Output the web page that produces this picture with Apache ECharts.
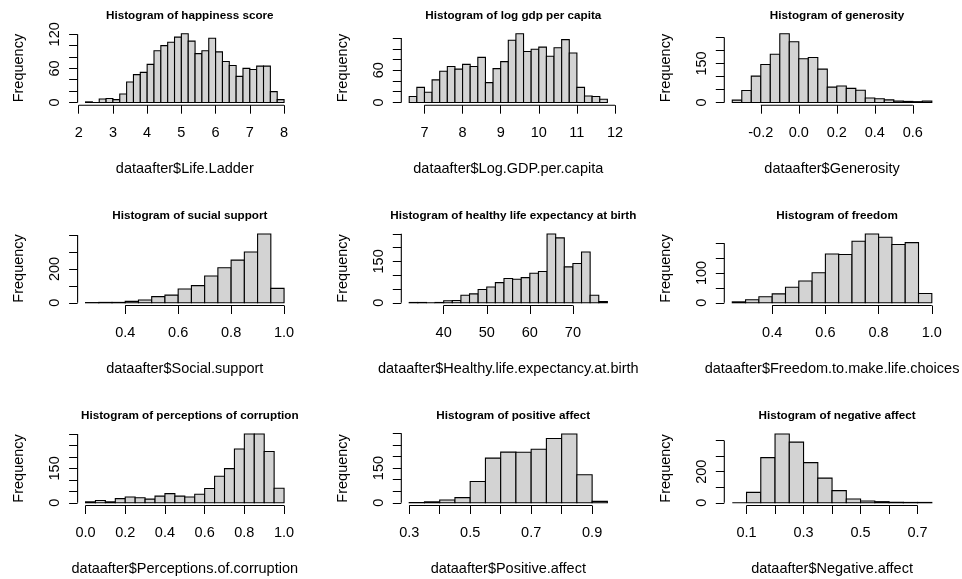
<!DOCTYPE html>
<html>
<head>
<meta charset="utf-8">
<script src="https://cdn.jsdelivr.net/npm/echarts@6/dist/echarts.min.js"></script>
<style>
  html, body { margin: 0; padding: 0; background: #ffffff; }
  #chart { width: 962px; height: 579px; }
</style>
</head>
<body>
<div id="chart"></div>
<script>
// ---- Histogram data: first break, bin width and counts per variable ----
const happinessStart = 2.2, happinessStep = 0.2;
const happinessCounts = [1, 0, 6, 7, 5, 15, 36, 49, 53, 67, 91, 100, 106, 115, 121, 108, 86, 91, 113, 89, 72, 65, 46, 60, 58, 64, 64, 19, 5];
const happinessXTicks = [2, 3, 4, 5, 6, 7, 8];
const happinessXLabels = [2, 3, 4, 5, 6, 7, 8];
const happinessYTicks = [0, 20, 40, 60, 80, 100, 120];
const happinessYLabels = [0, 60, 120];

const gdpStart = 6.6, gdpStep = 0.2;
const gdpCounts = [11, 28, 19, 42, 58, 67, 62, 71, 67, 84, 37, 63, 76, 116, 128, 95, 99, 103, 86, 102, 117, 92, 28, 12, 11, 6];
const gdpXTicks = [7, 8, 9, 10, 11, 12];
const gdpXLabels = [7, 8, 9, 10, 11, 12];
const gdpYTicks = [0, 20, 40, 60, 80, 100, 120];
const gdpYLabels = [0, 60];

const generosityStart = -0.35, generosityStep = 0.05;
const generosityCounts = [9, 46, 101, 146, 185, 264, 233, 168, 173, 128, 59, 63, 54, 47, 17, 14, 10, 5, 4, 3, 5];
const generosityXTicks = [-0.2, 0, 0.2, 0.4, 0.6];
const generosityXLabels = [-0.2, 0, 0.2, 0.4, 0.6];
const generosityYTicks = [0, 50, 100, 150, 200, 250];
const generosityYLabels = [0, 150];

const socialStart = 0.25, socialStep = 0.05;
const socialCounts = [1, 2, 2, 8, 16, 36, 45, 81, 101, 158, 207, 252, 300, 406, 85];
const socialXTicks = [0.4, 0.6, 0.8, 1.0];
const socialXLabels = [0.4, 0.6, 0.8, 1.0];
const socialYTicks = [0, 100, 200, 300, 400];
const socialYLabels = [0, 200];

const healthStart = 32, healthStep = 2;
const healthCounts = [1, 1, 0, 1, 7, 8, 27, 32, 48, 57, 73, 88, 85, 91, 107, 113, 249, 235, 130, 142, 184, 27, 4];
const healthXTicks = [40, 50, 60, 70];
const healthXLabels = [40, 50, 60, 70];
const healthYTicks = [0, 50, 100, 150, 200, 250];
const healthYLabels = [0, 150];

const freedomStart = 0.25, freedomStep = 0.05;
const freedomCounts = [3, 10, 20, 30, 52, 73, 101, 164, 162, 207, 231, 220, 196, 202, 31];
const freedomXTicks = [0.4, 0.6, 0.8, 1.0];
const freedomXLabels = [0.4, 0.6, 0.8, 1.0];
const freedomYTicks = [0, 50, 100, 150, 200];
const freedomYLabels = [0, 100];

const corruptionStart = 0, corruptionStep = 0.05;
const corruptionCounts = [4, 10, 4, 18, 25, 22, 16, 29, 40, 29, 25, 37, 62, 116, 149, 235, 300, 300, 224, 63];
const corruptionXTicks = [0, 0.2, 0.4, 0.6, 0.8, 1.0];
const corruptionXLabels = [0, 0.2, 0.4, 0.6, 0.8, 1.0];
const corruptionYTicks = [0, 50, 100, 150, 200, 250, 300];
const corruptionYLabels = [0, 150];

const positiveStart = 0.3, positiveStep = 0.05;
const positiveCounts = [1, 4, 12, 22, 92, 193, 219, 218, 231, 278, 297, 121, 6];
const positiveXTicks = [0.3, 0.4, 0.5, 0.6, 0.7, 0.8, 0.9];
const positiveXLabels = [0.3, 0.5, 0.7, 0.9];
const positiveYTicks = [0, 50, 100, 150, 200, 250, 300];
const positiveYLabels = [0, 150];

const negativeStart = 0.05, negativeStep = 0.05;
const negativeCounts = [0, 67, 291, 443, 391, 259, 159, 78, 24, 11, 7, 3, 2, 2];
const negativeXTicks = [0.1, 0.2, 0.3, 0.4, 0.5, 0.6, 0.7];
const negativeXLabels = [0.1, 0.3, 0.5, 0.7];
const negativeYTicks = [0, 100, 200, 300, 400];
const negativeYLabels = [0, 200];

const panelTitles = [
  'Histogram of happiness score', 'Histogram of log gdp per capita', 'Histogram of generosity',
  'Histogram of sucial support', 'Histogram of healthy life expectancy at birth', 'Histogram of freedom',
  'Histogram of perceptions of corruption', 'Histogram of positive affect', 'Histogram of negative affect'
];
const panelXNames = [
  'dataafter$Life.Ladder', 'dataafter$Log.GDP.per.capita', 'dataafter$Generosity',
  'dataafter$Social.support', 'dataafter$Healthy.life.expectancy.at.birth', 'dataafter$Freedom.to.make.life.choices',
  'dataafter$Perceptions.of.corruption', 'dataafter$Positive.affect', 'dataafter$Negative.affect'
];

// ---- Panel definitions assembled from the arrays above ----
const panels = [
  { start: happinessStart, step: happinessStep, counts: happinessCounts, xt: happinessXTicks, xl: happinessXLabels, yt: happinessYTicks, yl: happinessYLabels, dec: 0 },
  { start: gdpStart, step: gdpStep, counts: gdpCounts, xt: gdpXTicks, xl: gdpXLabels, yt: gdpYTicks, yl: gdpYLabels, dec: 0 },
  { start: generosityStart, step: generosityStep, counts: generosityCounts, xt: generosityXTicks, xl: generosityXLabels, yt: generosityYTicks, yl: generosityYLabels, dec: 1 },
  { start: socialStart, step: socialStep, counts: socialCounts, xt: socialXTicks, xl: socialXLabels, yt: socialYTicks, yl: socialYLabels, dec: 1 },
  { start: healthStart, step: healthStep, counts: healthCounts, xt: healthXTicks, xl: healthXLabels, yt: healthYTicks, yl: healthYLabels, dec: 0 },
  { start: freedomStart, step: freedomStep, counts: freedomCounts, xt: freedomXTicks, xl: freedomXLabels, yt: freedomYTicks, yl: freedomYLabels, dec: 1 },
  { start: corruptionStart, step: corruptionStep, counts: corruptionCounts, xt: corruptionXTicks, xl: corruptionXLabels, yt: corruptionYTicks, yl: corruptionYLabels, dec: 1 },
  { start: positiveStart, step: positiveStep, counts: positiveCounts, xt: positiveXTicks, xl: positiveXLabels, yt: positiveYTicks, yl: positiveYLabels, dec: 1 },
  { start: negativeStart, step: negativeStep, counts: negativeCounts, xt: negativeXTicks, xl: negativeXLabels, yt: negativeYTicks, yl: negativeYLabels, dec: 1 }
];

// Plot-region placement of the 3 x 3 layout
const colLeft = [77.6, 401.3, 724.3];
const colWidth = [214.4, 214.0, 215.5];
const rowTop = [31.0, 231.3, 431.3];
const rowHeight = 74.2;

const FONT = '"Liberation Sans", Arial, Helvetica, sans-serif';
const AXIS_FONT = 14.5;

const grids = [], xAxes = [], yAxes = [], series = [], titles = [];

panels.forEach((p, i) => {
  const col = i % 3, row = Math.floor(i / 3);
  const n = p.counts.length;
  const lo = p.start, hi = p.start + n * p.step;
  const xPad = 0.04 * (hi - lo);
  const yMax = Math.max.apply(null, p.counts);
  const xMin = lo - xPad, xMax = hi + xPad;
  const yMin = -0.04 * yMax, yTop = 1.04 * yMax;

  grids.push({ left: colLeft[col], top: rowTop[row], width: colWidth[col], height: rowHeight, containLabel: false });

  titles.push({
    text: panelTitles[i],
    left: colLeft[col] + colWidth[col] / 2,
    top: rowTop[row] - 26.5,
    textAlign: 'center',
    textStyle: { fontFamily: FONT, fontSize: 11.7, fontWeight: 'bold', color: '#000' }
  });

  const fmtX = v => Number(v).toFixed(p.dec);

  xAxes.push({
    type: 'value', gridIndex: i, min: xMin, max: xMax,
    axisLine: { show: false, onZero: false }, splitLine: { show: false },
    axisTick: { show: true, length: 8.5, customValues: p.xt, lineStyle: { color: '#000', width: 1 } },
    axisLabel: { show: true, customValues: p.xl, formatter: fmtX, margin: 20, color: '#000', fontFamily: FONT, fontSize: AXIS_FONT },
    name: panelXNames[i], nameLocation: 'middle', nameGap: 56,
    nameTextStyle: { color: '#000', fontFamily: FONT, fontSize: AXIS_FONT }
  });

  yAxes.push({
    type: 'value', gridIndex: i, min: yMin, max: yTop,
    axisLine: { show: false, onZero: false }, splitLine: { show: false },
    axisTick: { show: true, length: 8.5, customValues: p.yt, lineStyle: { color: '#000', width: 1 } },
    axisLabel: { show: true, customValues: p.yl, rotate: 90, margin: 15, color: '#000', fontFamily: FONT, fontSize: AXIS_FONT },
    name: 'Frequency', nameLocation: 'middle', nameGap: 51,
    nameTextStyle: { color: '#000', fontFamily: FONT, fontSize: AXIS_FONT }
  });

  // Histogram bars: one rectangle per bin [left break, right break, count]
  const binData = p.counts.map((c, k) => [p.start + k * p.step, p.start + (k + 1) * p.step, c]);
  series.push({
    type: 'custom', xAxisIndex: i, yAxisIndex: i, silent: true, animation: false, clip: false,
    dimensions: ['from', 'to', 'count'],
    encode: { x: ['from', 'to'], y: 'count' },
    data: binData,
    renderItem: function (params, api) {
      const tl = api.coord([api.value(0), api.value(2)]);
      const br = api.coord([api.value(1), 0]);
      return {
        type: 'rect',
        shape: { x: tl[0], y: tl[1], width: br[0] - tl[0], height: br[1] - tl[1] },
        style: { fill: '#d3d3d3', stroke: '#000', lineWidth: 1.1 }
      };
    }
  });

  // Axis lines spanning only from the first to the last tick
  series.push({
    type: 'line', xAxisIndex: i, yAxisIndex: i, silent: true, animation: false, clip: false,
    symbol: 'none', lineStyle: { color: '#000', width: 1.1 },
    data: [[p.xt[0], yMin], [p.xt[p.xt.length - 1], yMin]]
  });
  series.push({
    type: 'line', xAxisIndex: i, yAxisIndex: i, silent: true, animation: false, clip: false,
    symbol: 'none', lineStyle: { color: '#000', width: 1.1 },
    data: [[xMin, p.yt[0]], [xMin, p.yt[p.yt.length - 1]]]
  });
});

const chart = echarts.init(document.getElementById('chart'), null, { renderer: 'canvas' });
chart.setOption({
  backgroundColor: '#ffffff',
  animation: false,
  title: titles,
  grid: grids,
  xAxis: xAxes,
  yAxis: yAxes,
  series: series
});
</script>
</body>
</html>
